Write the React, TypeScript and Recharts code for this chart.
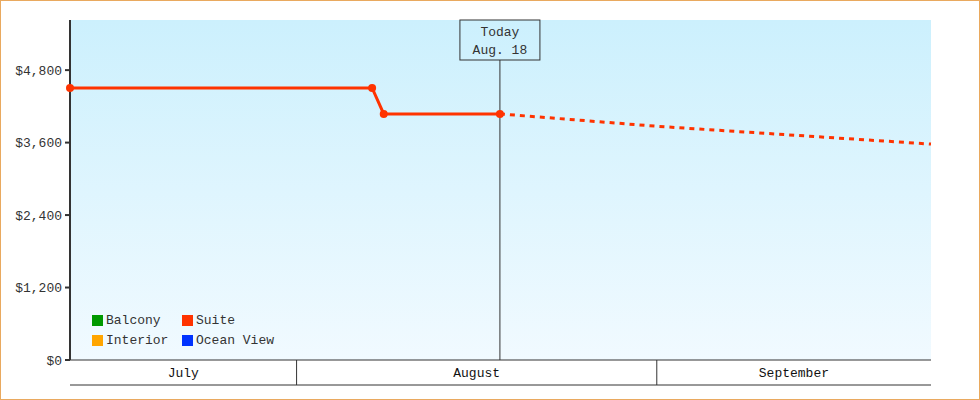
import React from 'react';
import { LineChart, Line, XAxis, YAxis, ReferenceLine, Legend, CartesianGrid } from 'recharts';

const FONT = '"Liberation Mono", "DejaVu Sans Mono", monospace';

// x values are days counted from July 1
const monthNames = ['July', 'August', 'September'];
const monthStartDays = [31, 62];
const axisStartDay = 11.5;
const axisEndDay = 85.6;

const suiteDays = [11.5, 37.5, 38.5, 48.5];
const suitePrices = [4505, 4505, 4075, 4075];
const forecastDays = [48.5, 62, 85.6];
const forecastPrices = [4075, 3870, 3575];

const priceTicks = [0, 1200, 2400, 3600, 4800];
const priceMax = 5630;

const todayDay = 48.5;
const todayLabel = ['Today', 'Aug. 18'];

const legendNames = ['Balcony', 'Suite', 'Interior', 'Ocean View'];
const legendColors = ['#009900', '#ff3300', '#ffa500', '#0033ff'];

const SUITE_COLOR = '#ff3300';

// build table
const allDays = Array.from(new Set([...suiteDays, ...forecastDays])).sort((a, b) => a - b);
const data = allDays.map((d) => {
  const si = suiteDays.indexOf(d);
  const fi = forecastDays.indexOf(d);
  return {
    day: d,
    suite: si >= 0 ? suitePrices[si] : null,
    forecast: fi >= 0 ? forecastPrices[fi] : null,
  };
});

const bounds = [axisStartDay, ...monthStartDays, axisEndDay];
const monthMids = monthNames.map((_, i) => (bounds[i] + bounds[i + 1]) / 2);
const xTicks = [...monthStartDays, ...monthMids];

const MonthTick = (props: any) => {
  const { x, y, payload } = props;
  const v = payload.value;
  if (monthStartDays.indexOf(v) >= 0) {
    return <line x1={x} y1={y} x2={x} y2={y + 25} stroke="#333" strokeWidth={1} />;
  }
  const m = monthMids.indexOf(v);
  return (
    <text x={x} y={y + 13} textAnchor="middle" dominantBaseline="central" fontFamily={FONT} fontSize={13} fill="#111">
      {monthNames[m]}
    </text>
  );
};

const TodayShape = (props: any) => {
  const { x1, y1, y2 } = props;
  const top = Math.min(y1, y2);
  const bottom = Math.max(y1, y2);
  const bw = 80;
  const bh = 40;
  return (
    <g>
      <line x1={x1} y1={top + bh} x2={x1} y2={bottom} stroke="#333" strokeWidth={1} />
      <rect x={x1 - bw / 2} y={top} width={bw} height={bh} fill="none" stroke="#333" strokeWidth={1} />
      <text x={x1} y={top + 12} textAnchor="middle" dominantBaseline="central" fontFamily={FONT} fontSize={13} fill="#333">
        {todayLabel[0]}
      </text>
      <text x={x1} y={top + 30} textAnchor="middle" dominantBaseline="central" fontFamily={FONT} fontSize={13} fill="#333">
        {todayLabel[1]}
      </text>
    </g>
  );
};

const LegendGrid = () => (
  <div style={{ display: 'grid', gridTemplateColumns: '90px 110px', fontFamily: FONT, fontSize: 13, color: '#333' }}>
    {legendNames.map((n, i) => (
      <div key={n} style={{ display: 'flex', alignItems: 'center', height: 20 }}>
        <span style={{ display: 'inline-block', width: 11, height: 11, background: legendColors[i], marginRight: 3 }} />
        <span style={{ whiteSpace: 'nowrap' }}>{n}</span>
      </div>
    ))}
  </div>
);

export default function App() {
  return (
    <div style={{ position: 'absolute', left: 0, top: 0, width: 980, height: 400, background: '#fff' }}>
      <LineChart width={980} height={400} data={data} margin={{ top: 20, right: 49, left: 0, bottom: 14 }}>
        <defs>
          <linearGradient id="bgGrad" x1="0" y1="0" x2="0" y2="1">
            <stop offset="0%" stopColor="#ccf0fd" />
            <stop offset="100%" stopColor="#f1faff" />
          </linearGradient>
        </defs>
        <CartesianGrid fill="url(#bgGrad)" stroke="none" horizontal={false} vertical={false} />
        <XAxis
          dataKey="day"
          type="number"
          domain={[axisStartDay, axisEndDay]}
          ticks={xTicks}
          interval={0}
          height={25}
          tickSize={0}
          tickMargin={0}
          tickLine={false}
          axisLine={{ stroke: '#333', strokeWidth: 1 }}
          tick={(p: any) => <MonthTick {...p} />}
        />
        <XAxis
          xAxisId="base"
          dataKey="day"
          type="number"
          domain={[axisStartDay, axisEndDay]}
          height={1}
          tick={false}
          tickLine={false}
          axisLine={{ stroke: '#333', strokeWidth: 1 }}
        />
        <YAxis
          type="number"
          domain={[0, priceMax]}
          ticks={priceTicks}
          interval={0}
          width={70}
          tickSize={5}
          tickMargin={3}
          axisLine={{ stroke: '#333', strokeWidth: 2 }}
          tickLine={{ stroke: '#333', strokeWidth: 2 }}
          tick={{ fill: '#333', fontFamily: FONT, fontSize: 13 }}
          tickFormatter={(v: number) => '$' + v.toLocaleString('en-US')}
        />
        <ReferenceLine x={todayDay} stroke="#333" shape={(p: any) => <TodayShape {...p} />} />
        <Line
          type="linear"
          dataKey="forecast"
          stroke={SUITE_COLOR}
          strokeWidth={3}
          strokeDasharray="5 5"
          dot={false}
          activeDot={false}
          legendType="none"
          isAnimationActive={false}
        />
        <Line
          type="linear"
          dataKey="suite"
          name="Suite"
          stroke={SUITE_COLOR}
          strokeWidth={3}
          dot={{ r: 4, fill: SUITE_COLOR, stroke: 'none' }}
          activeDot={false}
          isAnimationActive={false}
        />
        <Legend
          layout="horizontal"
          verticalAlign="middle"
          align="center"
          wrapperStyle={{ position: 'absolute', left: 92, top: 310, width: 220, height: 40 }}
          content={() => <LegendGrid />}
        />
      </LineChart>
      <div
        style={{
          position: 'absolute',
          left: 0,
          top: 0,
          width: 980,
          height: 400,
          boxSizing: 'border-box',
          border: '1px solid #e9a95f',
          pointerEvents: 'none',
        }}
      />
    </div>
  );
}
